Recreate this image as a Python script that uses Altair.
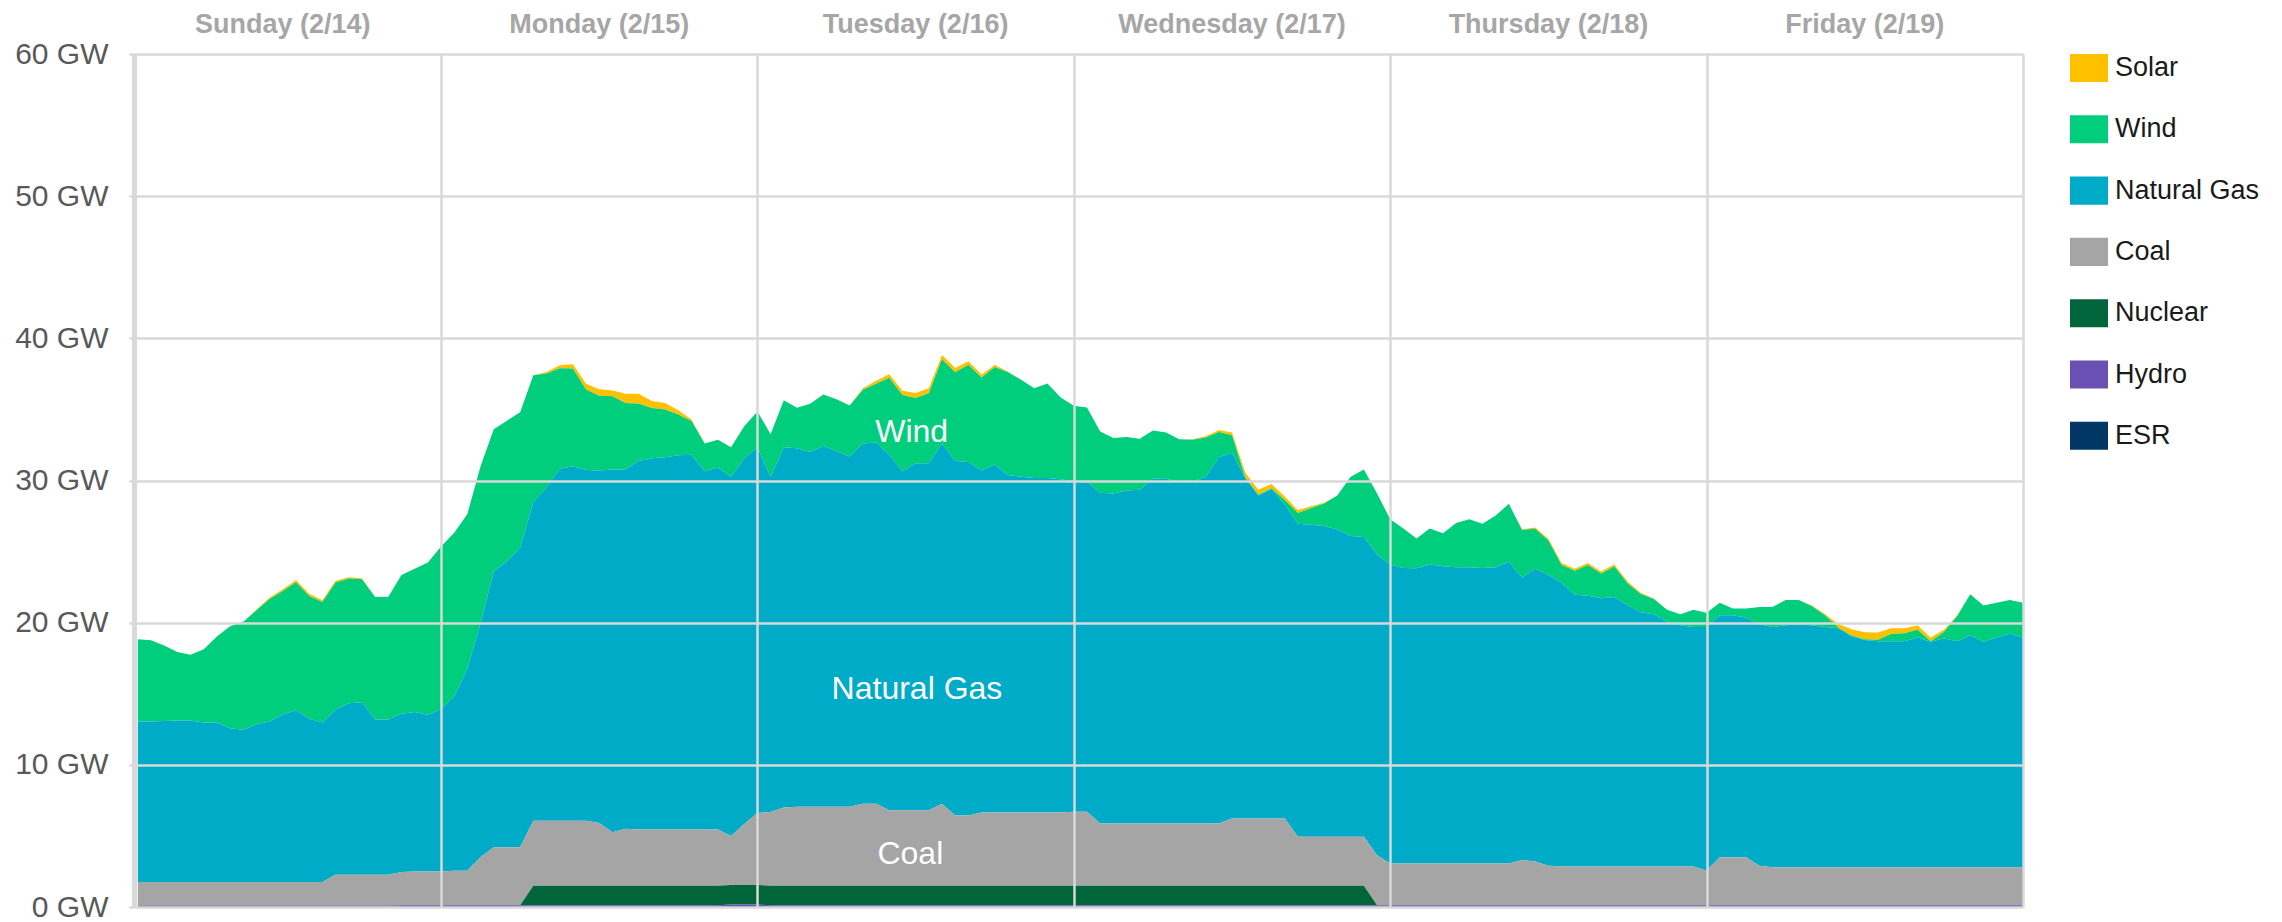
import altair as alt
import pandas as pd

# ---------------- data ----------------
DAYS = ["Sunday (2/14)", "Monday (2/15)", "Tuesday (2/16)",
        "Wednesday (2/17)", "Thursday (2/18)", "Friday (2/19)"]
DAY_CENTERS = [12, 36, 60, 84, 108, 132]
DAY_BOUNDS = [24, 48, 72, 96, 120, 144]
Y_TICKS = [0, 10, 20, 30, 40, 50, 60]

FUELS = ["Solar", "Wind", "Natural Gas", "Coal", "Nuclear", "Hydro", "ESR"]
COLORS = ["#FFC000", "#00CE7C", "#00ABC7", "#A5A5A5", "#00653A", "#6A50B3", "#003764"]
STACK_RANK = {"ESR": 0, "Hydro": 1, "Nuclear": 2, "Coal": 3, "Natural Gas": 4, "Wind": 5, "Solar": 6}

HOURS = list(range(1, 145))

SOLAR = (
    [0, 0, 0, 0, 0, 0, 0, 0, 0, 0.05, 0.1, 0.12, 0.15, 0.15, 0.12, 0.12, 0.1, 0.08, 0.02, 0, 0, 0, 0, 0]
    + [0, 0, 0, 0, 0, 0, 0, 0.1, 0.2, 0.3, 0.4, 0.45, 0.4, 0.65, 0.7, 0.5, 0.45, 0.3, 0.1, 0, 0, 0, 0, 0]
    + [0, 0, 0, 0, 0, 0, 0, 0.1, 0.2, 0.25, 0.3, 0.35, 0.35, 0.3, 0.3, 0.25, 0.2, 0.15, 0.05, 0, 0, 0, 0, 0]
    + [0, 0, 0, 0, 0, 0, 0, 0, 0.05, 0.1, 0.15, 0.2, 0.35, 0.35, 0.3, 0.25, 0.2, 0.12, 0.06, 0, 0, 0, 0, 0]
    + [0, 0, 0, 0, 0, 0, 0, 0, 0, 0.05, 0.1, 0.12, 0.15, 0.15, 0.15, 0.15, 0.15, 0.12, 0.08, 0.04, 0, 0, 0, 0]
    + [0, 0, 0, 0, 0, 0, 0, 0.05, 0.1, 0.25, 0.45, 0.5, 0.5, 0.4, 0.35, 0.3, 0.25, 0.15, 0.05, 0, 0, 0, 0, 0]
)
WIND = (
    [5.8, 5.72, 5.31, 4.82, 4.63, 5.15, 6.04, 7.17, 7.6, 8.02, 8.63, 8.67, 9.01, 8.64, 8.47, 8.93, 8.76, 8.64, 8.62, 8.64, 9.75, 10.09, 10.72, 11.45]
    + [11.5, 10.87, 11.0, 9.99, 9.88, 9.52, 8.92, 8.01, 7.08, 6.88, 5.66, 5.26, 5.15, 4.67, 4.02, 3.54, 3.36, 2.87, 2.37, 1.95, 1.95, 2.08, 2.26, 2.52]
    + [2.99, 3.3, 2.86, 3.4, 3.63, 3.63, 3.58, 3.79, 4.13, 5.41, 5.36, 4.59, 4.92, 5.93, 6.24, 6.84, 6.55, 6.86, 7.22, 6.83, 6.31, 6.65, 5.76, 5.3]
    + [5.22, 4.31, 3.9, 3.76, 3.59, 3.38, 3.25, 2.99, 2.94, 2.76, 1.77, 1.23, 0.05, 0.05, 0.05, 0.32, 0.76, 1.18, 1.58, 2.41, 4.16, 4.75, 4.28, 3.17]
    + [2.78, 2.1, 2.52, 2.32, 3.11, 3.37, 3.12, 3.63, 4.07, 3.35, 2.8, 2.43, 1.25, 1.68, 2.16, 1.74, 2.14, 1.54, 1.29, 1.06, 0.82, 0.78, 1.21, 1.01]
    + [0.88, 0.48, 0.66, 1.2, 1.41, 1.78, 1.73, 1.33, 0.81, 0.05, 0.05, 0.05, 0.1, 0.5, 0.55, 0.54, 0.05, 0.44, 1.75, 2.88, 2.55, 2.44, 2.38, 2.44]
)
NATURAL_GAS = (
    [11.29, 11.29, 11.33, 11.36, 11.36, 11.23, 11.23, 10.83, 10.71, 11.10, 11.29, 11.81, 12.09, 11.49, 11.23, 11.62, 12.07, 12.14, 10.92, 10.92, 11.13, 11.21, 11.02, 11.41]
    + [12.27, 14.23, 16.49, 19.40, 20.11, 21.07, 22.42, 23.46, 24.76, 24.94, 24.68, 24.8, 25.53, 25.28, 25.93, 26.11, 26.19, 26.32, 26.37, 25.2, 25.46, 25.26, 25.72, 25.72]
    + [23.58, 25.34, 25.21, 24.95, 25.37, 25.03, 24.64, 25.33, 25.41, 25.01, 23.84, 24.41, 24.41, 25.33, 24.94, 24.86, 24.05, 24.47, 23.74, 23.61, 23.53, 23.53, 23.43, 23.25]
    + [23.22, 23.26, 23.21, 23.42, 23.47, 24.25, 24.25, 24.04, 24.04, 24.38, 25.76, 25.72, 23.94, 22.72, 23.17, 22.08, 22.02, 21.94, 21.86, 21.61, 21.16, 21.09, 21.17, 21.04]
    + [20.78, 20.76, 21.04, 20.91, 20.84, 20.84, 20.78, 20.84, 21.23, 19.87, 20.6, 20.45, 19.95, 19.12, 19.04, 18.86, 18.96, 18.39, 17.88, 17.75, 17.23, 16.97, 16.84, 17.14]
    + [17.02, 17.02, 16.84, 17.0, 16.89, 17.02, 17.07, 17.02, 16.89, 16.8, 16.24, 15.98, 15.9, 15.9, 15.9, 16.16, 15.85, 16.11, 15.9, 16.32, 15.85, 16.16, 16.42, 16.16]
)
COAL = (
    [1.65, 1.65, 1.65, 1.65, 1.65, 1.65, 1.65, 1.65, 1.65, 1.65, 1.65, 1.65, 1.65, 1.65, 1.65, 2.17, 2.17, 2.17, 2.17, 2.17, 2.35, 2.38, 2.38, 2.38]
    + [2.43, 2.43, 3.39, 4.09, 4.09, 4.09, 4.56, 4.56, 4.56, 4.56, 4.56, 4.4, 3.75, 4.0, 3.95, 3.95, 3.95, 3.95, 3.95, 3.95, 3.95, 3.45, 4.29, 5.07]
    + [5.18, 5.5, 5.55, 5.55, 5.55, 5.55, 5.55, 5.77, 5.77, 5.31, 5.31, 5.31, 5.31, 5.77, 4.94, 4.94, 5.15, 5.15, 5.15, 5.15, 5.15, 5.15, 5.15, 5.2]
    + [5.2, 4.38, 4.38, 4.38, 4.38, 4.38, 4.38, 4.38, 4.38, 4.38, 4.38, 4.73, 4.73, 4.73, 4.73, 4.73, 3.44, 3.44, 3.44, 3.44, 3.44, 3.44, 3.52, 2.94]
    + [2.94, 2.94, 2.94, 2.94, 2.94, 2.94, 2.94, 2.94, 2.94, 3.18, 3.08, 2.78, 2.73, 2.73, 2.73, 2.73, 2.73, 2.73, 2.73, 2.73, 2.73, 2.73, 2.73, 2.43]
    + [3.38, 3.38, 3.38, 2.78, 2.68, 2.68, 2.68, 2.68, 2.68, 2.68, 2.68, 2.68, 2.68, 2.68, 2.68, 2.68, 2.68, 2.68, 2.68, 2.68, 2.68, 2.68, 2.68, 2.68]
)
NUCLEAR = (
    [0, 0, 0, 0, 0, 0, 0, 0, 0, 0, 0, 0, 0, 0, 0, 0, 0, 0, 0, 0, 0, 0, 0, 0]
    + [0, 0, 0, 0, 0, 0, 1.38, 1.38, 1.38, 1.38, 1.38, 1.38, 1.38, 1.38, 1.38, 1.38, 1.38, 1.38, 1.38, 1.38, 1.38, 1.38, 1.38, 1.38]
    + [1.38, 1.38, 1.38, 1.38, 1.38, 1.38, 1.38, 1.38, 1.38, 1.38, 1.38, 1.38, 1.38, 1.38, 1.38, 1.38, 1.38, 1.38, 1.38, 1.38, 1.38, 1.38, 1.38, 1.38]
    + [1.38, 1.38, 1.38, 1.38, 1.38, 1.38, 1.38, 1.38, 1.38, 1.38, 1.38, 1.38, 1.38, 1.38, 1.38, 1.38, 1.38, 1.38, 1.38, 1.38, 1.38, 1.38, 0, 0]
    + [0, 0, 0, 0, 0, 0, 0, 0, 0, 0, 0, 0, 0, 0, 0, 0, 0, 0, 0, 0, 0, 0, 0, 0]
    + [0, 0, 0, 0, 0, 0, 0, 0, 0, 0, 0, 0, 0, 0, 0, 0, 0, 0, 0, 0, 0, 0, 0, 0]
)
HYDRO = (
    [0.1, 0.1, 0.1, 0.1, 0.1, 0.1, 0.1, 0.1, 0.1, 0.1, 0.1, 0.1, 0.1, 0.1, 0.1, 0.1, 0.1, 0.1, 0.1, 0.1, 0.12, 0.12, 0.12, 0.12]
    + [0.12, 0.12, 0.12, 0.12, 0.12, 0.12, 0.12, 0.12, 0.12, 0.12, 0.12, 0.12, 0.12, 0.12, 0.12, 0.12, 0.12, 0.12, 0.12, 0.12, 0.12, 0.12, 0.12, 0.12]
    + [0.12, 0.12, 0.12, 0.12, 0.12, 0.12, 0.12, 0.12, 0.12, 0.12, 0.12, 0.12, 0.12, 0.12, 0.12, 0.12, 0.12, 0.12, 0.12, 0.12, 0.12, 0.12, 0.12, 0.12]
    + [0.12, 0.12, 0.12, 0.12, 0.12, 0.12, 0.12, 0.12, 0.12, 0.12, 0.12, 0.12, 0.12, 0.12, 0.12, 0.12, 0.12, 0.12, 0.12, 0.12, 0.12, 0.12, 0.12, 0.12]
    + [0.12, 0.12, 0.12, 0.12, 0.12, 0.12, 0.12, 0.12, 0.12, 0.12, 0.12, 0.12, 0.12, 0.12, 0.12, 0.12, 0.12, 0.12, 0.12, 0.12, 0.12, 0.12, 0.12, 0.12]
    + [0.12, 0.12, 0.12, 0.12, 0.12, 0.12, 0.12, 0.12, 0.12, 0.12, 0.12, 0.12, 0.12, 0.12, 0.12, 0.12, 0.12, 0.12, 0.12, 0.12, 0.12, 0.12, 0.12, 0.12]
)
ESR = (
    [0, 0, 0, 0, 0, 0, 0, 0, 0, 0, 0, 0, 0, 0, 0, 0, 0, 0, 0, 0, 0, 0, 0, 0]
    + [0, 0, 0, 0, 0, 0, 0, 0, 0, 0, 0, 0, 0, 0, 0, 0, 0, 0, 0, 0, 0, 0.05, 0.05, 0.05]
    + [0, 0, 0, 0, 0, 0, 0, 0, 0, 0, 0, 0, 0, 0, 0, 0, 0, 0, 0, 0, 0, 0, 0, 0]
    + [0, 0, 0, 0, 0, 0, 0, 0, 0, 0, 0, 0, 0, 0, 0, 0, 0, 0, 0, 0, 0, 0, 0, 0]
    + [0, 0, 0, 0, 0, 0, 0, 0, 0, 0, 0, 0, 0, 0, 0, 0, 0, 0, 0, 0, 0, 0, 0, 0]
    + [0, 0, 0, 0, 0, 0, 0, 0, 0, 0, 0, 0, 0, 0, 0, 0, 0, 0, 0, 0, 0, 0, 0, 0]
)

AREA_LABELS = ["Wind", "Natural Gas", "Coal"]
AREA_LABEL_HOUR = [59.7, 60.1, 59.6]
AREA_LABEL_GW = [33.4, 15.3, 3.7]

# ---------------- build tables ----------------
series = {"Solar": SOLAR, "Wind": WIND, "Natural Gas": NATURAL_GAS, "Coal": COAL,
          "Nuclear": NUCLEAR, "Hydro": HYDRO, "ESR": ESR}
rows = []
for fuel, vals in series.items():
    for h, v in zip(HOURS, vals):
        rows.append({"hour": h, "fuel": fuel, "gw": v, "rank": STACK_RANK[fuel]})
df = pd.DataFrame(rows)

labels_df = pd.DataFrame({"label": AREA_LABELS, "hour": AREA_LABEL_HOUR, "gw": AREA_LABEL_GW})
days_df = pd.DataFrame({"day": DAYS, "center": DAY_CENTERS})

FONT = "Liberation Sans"
GRID = "#D9D9D9"

x_scale = alt.Scale(domain=[0.71, 144], nice=False, zero=False)
y_scale = alt.Scale(domain=[0, 60], nice=False)

areas = alt.Chart(df).mark_area(interpolate="linear").encode(
    x=alt.X("hour:Q", scale=x_scale,
            axis=alt.Axis(values=DAY_BOUNDS, grid=True, gridColor=GRID, gridWidth=2.5,
                          labels=False, ticks=False, domain=False, title=None, zindex=1)),
    y=alt.Y("gw:Q", stack="zero", scale=y_scale,
            axis=alt.Axis(values=Y_TICKS, labelExpr="datum.value + ' GW'", title=None,
                          grid=True, gridColor=GRID, gridWidth=2.5,
                          domain=True, domainColor=GRID, domainWidth=5,
                          ticks=True, tickColor=GRID, tickSize=5, tickWidth=2.5,
                          labelFont=FONT, labelFontSize=30, labelColor="#595959",
                          labelPadding=21, zindex=1)),
    color=alt.Color("fuel:N", sort=FUELS,
                    scale=alt.Scale(domain=FUELS, range=COLORS),
                    legend=alt.Legend(title=None, orient="none", legendX=1936, legendY=-5,
                                      symbolType="M-1,-0.74L1,-0.74L1,0.74L-1,0.74Z",
                                      symbolSize=1444, symbolStrokeWidth=0, symbolOpacity=1,
                                      labelFont=FONT, labelFontSize=27, labelColor="#1A1A1A",
                                      labelOffset=7, rowPadding=27.3, padding=0)),
    order=alt.Order("rank:Q", sort="ascending"),
)

area_text = alt.Chart(labels_df).mark_text(
    font=FONT, fontSize=32, color="white", align="center", baseline="middle"
).encode(
    x=alt.X("hour:Q", scale=x_scale),
    y=alt.Y("gw:Q", scale=y_scale),
    text="label:N",
)

day_text = alt.Chart(days_df).mark_text(
    font=FONT, fontSize=27, fontWeight="bold", color="#A6A6A6",
    align="center", baseline="middle"
).encode(
    x=alt.X("center:Q", scale=x_scale),
    y=alt.value(-29),
    text="day:N",
)

chart = alt.layer(areas, area_text, day_text).properties(
    width=1889, height=853,
    autosize=alt.AutoSizeParams(type="none"),
    padding={"left": 126, "top": 46, "right": 250, "bottom": 13},
).configure_view(stroke=None)

chart.save("out.html", embed_options={"renderer": "svg", "actions": False})
